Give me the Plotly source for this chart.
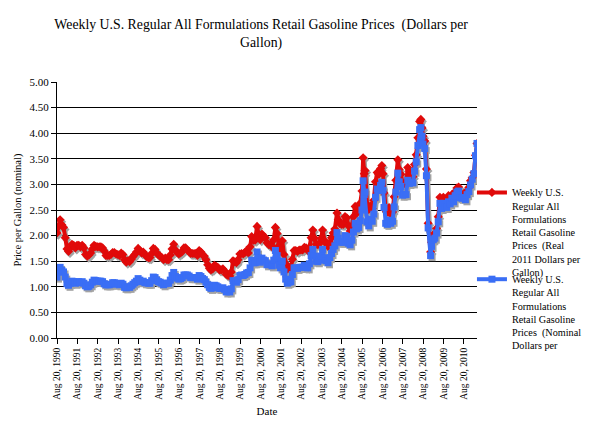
import plotly.graph_objects as go

dates = [
    "1990-08-20", "1990-09-15", "1990-10-15", "1990-11-15", "1990-12-15",
    "1991-01-15", "1991-02-15", "1991-03-15", "1991-04-15", "1991-05-15", "1991-06-15",
    "1991-07-15", "1991-08-15", "1991-09-15", "1991-10-15", "1991-11-15", "1991-12-15",
    "1992-01-15", "1992-02-15", "1992-03-15", "1992-04-15", "1992-05-15", "1992-06-15",
    "1992-07-15", "1992-08-15", "1992-09-15", "1992-10-15", "1992-11-15", "1992-12-15",
    "1993-01-15", "1993-02-15", "1993-03-15", "1993-04-15", "1993-05-15", "1993-06-15",
    "1993-07-15", "1993-08-15", "1993-09-15", "1993-10-15", "1993-11-15", "1993-12-15",
    "1994-01-15", "1994-02-15", "1994-03-15", "1994-04-15", "1994-05-15", "1994-06-15",
    "1994-07-15", "1994-08-15", "1994-09-15", "1994-10-15", "1994-11-15", "1994-12-15",
    "1995-01-15", "1995-02-15", "1995-03-15", "1995-04-15", "1995-05-15", "1995-06-15",
    "1995-07-15", "1995-08-15", "1995-09-15", "1995-10-15", "1995-11-15", "1995-12-15",
    "1996-01-15", "1996-02-15", "1996-03-15", "1996-04-15", "1996-05-15", "1996-06-15",
    "1996-07-15", "1996-08-15", "1996-09-15", "1996-10-15", "1996-11-15", "1996-12-15",
    "1997-01-15", "1997-02-15", "1997-03-15", "1997-04-15", "1997-05-15", "1997-06-15",
    "1997-07-15", "1997-08-15", "1997-09-15", "1997-10-15", "1997-11-15", "1997-12-15",
    "1998-01-15", "1998-02-15", "1998-03-15", "1998-04-15", "1998-05-15", "1998-06-15",
    "1998-07-15", "1998-08-15", "1998-09-15", "1998-10-15", "1998-11-15", "1998-12-15",
    "1999-01-15", "1999-02-15", "1999-03-15", "1999-04-15", "1999-05-15", "1999-06-15",
    "1999-07-15", "1999-08-15", "1999-09-15", "1999-10-15", "1999-11-15", "1999-12-15",
    "2000-01-15", "2000-02-15", "2000-03-15", "2000-04-15", "2000-05-15", "2000-06-19",
    "2000-07-15", "2000-08-15", "2000-09-15", "2000-10-15", "2000-11-15", "2000-12-15",
    "2001-01-15", "2001-02-15", "2001-03-15", "2001-04-15", "2001-05-14", "2001-06-15",
    "2001-07-15", "2001-08-15", "2001-09-15", "2001-10-15", "2001-11-15", "2001-12-15",
    "2002-01-15", "2002-02-15", "2002-03-15", "2002-04-15", "2002-05-15", "2002-06-15",
    "2002-07-15", "2002-08-15", "2002-09-15", "2002-10-15", "2002-11-15", "2002-12-15",
    "2003-01-15", "2003-02-15", "2003-03-17", "2003-04-15", "2003-05-15", "2003-06-15",
    "2003-07-15", "2003-08-15", "2003-09-08", "2003-10-15", "2003-11-15", "2003-12-15",
    "2004-01-15", "2004-02-15", "2004-03-15", "2004-04-15", "2004-05-24", "2004-06-15",
    "2004-07-15", "2004-08-15", "2004-09-15", "2004-10-15", "2004-11-15", "2004-12-15",
    "2005-01-15", "2005-02-15", "2005-03-15", "2005-04-15", "2005-05-15", "2005-06-15",
    "2005-07-15", "2005-08-15", "2005-09-05", "2005-09-26", "2005-10-10", "2005-11-15", "2005-12-15",
    "2006-01-15", "2006-02-15", "2006-03-15", "2006-04-15", "2006-05-15", "2006-06-15",
    "2006-07-15", "2006-08-07", "2006-08-28", "2006-09-15", "2006-10-15", "2006-11-15", "2006-12-15",
    "2007-01-15", "2007-02-15", "2007-03-15", "2007-04-15", "2007-05-21", "2007-06-15",
    "2007-07-15", "2007-08-15", "2007-09-15", "2007-10-15", "2007-11-15", "2007-12-15",
    "2008-01-15", "2008-02-15", "2008-03-15", "2008-04-15", "2008-05-15", "2008-06-15",
    "2008-07-07", "2008-07-28", "2008-08-15", "2008-09-15", "2008-10-15", "2008-11-15", "2008-12-29",
    "2009-01-15", "2009-02-15", "2009-03-15", "2009-04-15", "2009-05-15", "2009-06-15",
    "2009-07-15", "2009-08-15", "2009-09-15", "2009-10-15", "2009-11-15", "2009-12-15",
    "2010-01-15", "2010-02-15", "2010-03-15", "2010-04-15", "2010-05-15", "2010-06-15",
    "2010-07-15", "2010-08-15", "2010-09-15", "2010-10-15", "2010-11-15", "2010-12-15",
    "2011-01-15", "2011-02-15", "2011-03-15", "2011-04-11",
]

nominal = [
    1.19, 1.29, 1.38, 1.32, 1.29,
    1.19, 1.06, 1.03, 1.07, 1.11, 1.10, 1.07, 1.10, 1.10, 1.08, 1.10, 1.07,
    1.02, 1.00, 1.01, 1.04, 1.09, 1.13, 1.12, 1.11, 1.11, 1.11, 1.10, 1.06,
    1.04, 1.04, 1.04, 1.05, 1.08, 1.08, 1.06, 1.05, 1.04, 1.07, 1.05, 0.99,
    0.98, 1.00, 0.99, 1.02, 1.05, 1.08, 1.11, 1.16, 1.13, 1.10, 1.11, 1.08,
    1.08, 1.07, 1.07, 1.12, 1.19, 1.18, 1.13, 1.10, 1.09, 1.07, 1.04, 1.06,
    1.07, 1.07, 1.13, 1.22, 1.28, 1.20, 1.17, 1.15, 1.16, 1.18, 1.23, 1.23,
    1.23, 1.21, 1.18, 1.18, 1.18, 1.18, 1.15, 1.22, 1.20, 1.16, 1.14, 1.09,
    1.04, 0.99, 0.97, 0.98, 1.03, 1.02, 1.00, 0.97, 0.97, 0.98, 0.95, 0.90,
    0.91, 0.90, 0.96, 1.12, 1.11, 1.09, 1.14, 1.22, 1.23, 1.22, 1.24, 1.27,
    1.28, 1.37, 1.52, 1.47, 1.47, 1.68, 1.56, 1.48, 1.56, 1.52, 1.51, 1.43,
    1.44, 1.45, 1.41, 1.52, 1.71, 1.61, 1.42, 1.37, 1.50, 1.29, 1.15, 1.07,
    1.09, 1.10, 1.24, 1.37, 1.37, 1.36, 1.38, 1.38, 1.38, 1.42, 1.41, 1.37,
    1.45, 1.61, 1.73, 1.60, 1.50, 1.49, 1.52, 1.60, 1.73, 1.56, 1.51, 1.47,
    1.57, 1.65, 1.73, 1.80, 2.06, 1.95, 1.88, 1.87, 1.87, 2.00, 1.98, 1.85,
    1.82, 1.91, 2.07, 2.24, 2.13, 2.16, 2.29, 2.50, 3.07, 2.80, 2.85, 2.27, 2.19,
    2.32, 2.28, 2.42, 2.75, 2.91, 2.88, 2.98, 3.04, 2.89, 2.55, 2.24, 2.22, 2.30,
    2.24, 2.28, 2.56, 2.85, 3.22, 3.05, 2.96, 2.79, 2.80, 2.80, 3.08, 3.02,
    3.04, 3.03, 3.26, 3.44, 3.76, 4.07, 4.11, 3.94, 3.79, 3.70, 3.17, 2.15, 1.61,
    1.79, 1.92, 1.95, 2.05, 2.27, 2.63, 2.53, 2.63, 2.56, 2.55, 2.66, 2.62,
    2.73, 2.66, 2.78, 2.85, 2.87, 2.74, 2.73, 2.74, 2.70, 2.80, 2.86, 2.99,
    3.10, 3.21, 3.56, 3.80,
]

real_2011 = [
    2.05, 2.18, 2.31, 2.21, 2.16,
    1.96, 1.74, 1.69, 1.76, 1.83, 1.81, 1.76, 1.81, 1.81, 1.78, 1.81, 1.76,
    1.63, 1.60, 1.62, 1.66, 1.74, 1.81, 1.79, 1.78, 1.78, 1.78, 1.76, 1.70,
    1.61, 1.61, 1.61, 1.63, 1.67, 1.67, 1.64, 1.63, 1.61, 1.66, 1.63, 1.53,
    1.48, 1.51, 1.49, 1.54, 1.59, 1.63, 1.68, 1.75, 1.71, 1.66, 1.68, 1.63,
    1.59, 1.57, 1.57, 1.65, 1.75, 1.73, 1.66, 1.62, 1.60, 1.57, 1.53, 1.56,
    1.53, 1.53, 1.62, 1.74, 1.83, 1.72, 1.67, 1.64, 1.66, 1.69, 1.76, 1.76,
    1.72, 1.69, 1.65, 1.65, 1.65, 1.65, 1.61, 1.71, 1.68, 1.62, 1.60, 1.53,
    1.43, 1.36, 1.33, 1.35, 1.42, 1.40, 1.38, 1.33, 1.33, 1.35, 1.31, 1.24,
    1.22, 1.21, 1.29, 1.51, 1.49, 1.47, 1.53, 1.64, 1.65, 1.64, 1.67, 1.71,
    1.66, 1.78, 1.98, 1.91, 1.91, 2.18, 2.03, 1.92, 2.03, 1.98, 1.96, 1.86,
    1.82, 1.83, 1.78, 1.92, 2.16, 2.04, 1.80, 1.73, 1.90, 1.63, 1.45, 1.35,
    1.36, 1.37, 1.54, 1.71, 1.71, 1.69, 1.72, 1.72, 1.72, 1.77, 1.76, 1.71,
    1.77, 1.96, 2.11, 1.95, 1.83, 1.82, 1.85, 1.95, 2.11, 1.90, 1.84, 1.79,
    1.86, 1.96, 2.05, 2.13, 2.44, 2.31, 2.23, 2.22, 2.22, 2.37, 2.35, 2.19,
    2.09, 2.19, 2.37, 2.57, 2.44, 2.48, 2.63, 2.87, 3.52, 3.21, 3.27, 2.60, 2.51,
    2.58, 2.53, 2.69, 3.05, 3.23, 3.20, 3.31, 3.37, 3.21, 2.83, 2.49, 2.46, 2.55,
    2.42, 2.46, 2.76, 3.08, 3.48, 3.29, 3.20, 3.01, 3.02, 3.02, 3.33, 3.26,
    3.16, 3.15, 3.39, 3.58, 3.91, 4.23, 4.27, 4.10, 3.94, 3.85, 3.30, 2.24, 1.68,
    1.87, 2.01, 2.04, 2.14, 2.37, 2.75, 2.64, 2.75, 2.68, 2.66, 2.78, 2.74,
    2.80, 2.73, 2.86, 2.93, 2.95, 2.81, 2.80, 2.81, 2.77, 2.88, 2.94, 3.07,
    3.13, 3.23, 3.57, 3.80,
]

tick_dates = [
    "1990-08-20", "1991-08-20", "1992-08-20", "1993-08-20", "1994-08-20", "1995-08-20",
    "1996-08-20", "1997-08-20", "1998-08-20", "1999-08-20", "2000-08-20", "2001-08-20",
    "2002-08-20", "2003-08-20", "2004-08-20", "2005-08-20", "2006-08-20", "2007-08-20",
    "2008-08-20", "2009-08-20", "2010-08-20",
]
tick_labels = [
    "Aug 20, 1990", "Aug 20, 1991", "Aug 20, 1992", "Aug 20, 1993", "Aug 20, 1994",
    "Aug 20, 1995", "Aug 20, 1996", "Aug 20, 1997", "Aug 20, 1998", "Aug 20, 1999",
    "Aug 20, 2000", "Aug 20, 2001", "Aug 20, 2002", "Aug 20, 2003", "Aug 20, 2004",
    "Aug 20, 2005", "Aug 20, 2006", "Aug 20, 2007", "Aug 20, 2008", "Aug 20, 2009",
    "Aug 20, 2010",
]
y_ticks = [0, 0.5, 1.0, 1.5, 2.0, 2.5, 3.0, 3.5, 4.0, 4.5, 5.0]
y_tick_labels = ["0.00", "0.50", "1.00", "1.50", "2.00", "2.50", "3.00", "3.50", "4.00", "4.50", "5.00"]
grid_values = [0.5, 1.0, 1.5, 2.0, 2.5, 3.0, 3.5, 4.0, 4.5]

name_real = "Weekly U.S.<br>Regular All<br>Formulations<br>Retail Gasoline<br>Prices\u00a0 (Real<br>2011 Dollars per<br>Gallon)"
name_nominal = "Weekly U.S.<br>Regular All<br>Formulations<br>Retail Gasoline<br>Prices\u00a0 (Nominal<br>Dollars per"

FONT = "Liberation Serif, Times New Roman, serif"
RED = "#E00A0A"
BLUE = "#3A6EF5"
SHADOW = "#A3A3A3"

fig = go.Figure()

# drop shadows, drawn on hidden axes whose ranges are shifted by a pixel or two
for vals, sym in ((real_2011, "diamond"), (nominal, "square")):
    fig.add_trace(go.Scatter(
        x=dates, y=vals, xaxis="x", yaxis="y", mode="lines+markers",
        line=dict(color=SHADOW, width=4), marker=dict(symbol=sym, size=7, color=SHADOW),
        showlegend=False, hoverinfo="skip",
    ))

fig.add_trace(go.Scatter(
    x=dates, y=real_2011, xaxis="x2", yaxis="y2", mode="lines+markers", name=name_real,
    line=dict(color=RED, width=4), marker=dict(symbol="diamond", size=7, color=RED),
    legend="legend",
))
fig.add_trace(go.Scatter(
    x=dates, y=nominal, xaxis="x2", yaxis="y2", mode="lines+markers", name=name_nominal,
    line=dict(color=BLUE, width=4), marker=dict(symbol="square", size=7, color=BLUE),
    legend="legend2",
))
# carrier for the gridline axis
fig.add_trace(go.Scatter(x=[], y=[], xaxis="x2", yaxis="y3", showlegend=False, hoverinfo="skip"))

legend_style = dict(
    xanchor="left", yanchor="top", valign="top",
    font=dict(family=FONT, size=10.2, color="black"),
    bgcolor="rgba(0,0,0,0)", borderwidth=0,
)

fig.update_layout(
    width=582, height=427,
    margin=dict(l=49, r=113, t=74, b=97, autoexpand=False),
    paper_bgcolor="white", plot_bgcolor="white",
    font=dict(family=FONT, color="black", size=11),
    title=dict(
        text="Weekly U.S. Regular All Formulations Retail Gasoline Prices\u00a0 (Dollars per<br>Gallon)",
        x=0.486, xanchor="center", xref="paper", y=0.951, yref="container", yanchor="top",
        font=dict(family=FONT, size=13.8, color="black"),
    ),
    xaxis=dict(range=["1990-07-24", "2011-03-15"], visible=False, showgrid=False, automargin=False),
    yaxis=dict(range=[0.04, 5.04], visible=False, showgrid=False, automargin=False),
    xaxis2=dict(
        overlaying="x", anchor="y2", side="bottom", type="date",
        range=["1990-08-20", "2011-04-11"], automargin=False,
        tickmode="array", tickvals=tick_dates, ticktext=tick_labels, tickangle=-90,
        ticks="outside", ticklen=5, tickcolor="black", showline=True, linecolor="black",
        linewidth=1, showgrid=False, zeroline=False,
        tickfont=dict(family=FONT, size=9.5, color="black"),
        title=dict(text="Date", font=dict(family=FONT, size=11, color="black"), standoff=8),
    ),
    yaxis2=dict(
        overlaying="y", anchor="x2", side="left", range=[0, 5], automargin=False,
        tickmode="array", tickvals=y_ticks, ticktext=y_tick_labels,
        ticks="outside", ticklen=5, tickcolor="black", showline=True, linecolor="black",
        linewidth=1, showgrid=False, zeroline=False,
        tickfont=dict(family=FONT, size=11, color="black"),
        title=dict(text="Price per Gallon (nominal)", font=dict(family=FONT, size=10.5, color="black"),
                   standoff=5),
    ),
    yaxis3=dict(
        overlaying="y", anchor="x2", side="left", range=[0, 5], automargin=False,
        tickmode="array", tickvals=grid_values, showticklabels=False, ticks="",
        showline=False, showgrid=True, gridcolor="black", gridwidth=1, zeroline=False,
    ),
    legend=dict(x=0.988, y=0.62, **legend_style),
    legend2=dict(x=0.988, y=0.281, **legend_style),
    showlegend=True,
)

fig.write_html("out.html")
